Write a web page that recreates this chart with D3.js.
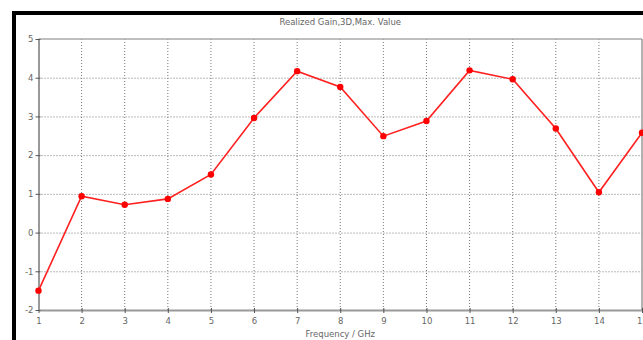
<!DOCTYPE html>
<html><head><meta charset="utf-8">
<script src="https://cdn.jsdelivr.net/npm/d3@7"></script>
<style>body{margin:0;background:#fff;}svg{display:block;}</style>
</head><body>
<script>
const title = "Realized Gain,3D,Max. Value";
const xLabel = "Frequency / GHz";
const freq = [1,2,3,4,5,6,7,8,9,10,11,12,13,14,15];
const gain = [-1.5,0.94,0.72,0.87,1.5,2.96,4.17,3.76,2.49,2.88,4.19,3.96,2.69,1.04,2.58];
const xTicks = [1,2,3,4,5,6,7,8,9,10,11,12,13,14,15];
const yTicks = [-2,-1,0,1,2,3,4,5];

const W = 643, H = 340;
const svg = d3.select("body").append("svg").attr("width", W).attr("height", H);
const L = 38.5, R = 642, T = 39, B = 310;
const x = d3.scaleLinear().domain([1,15]).range([L,R]);
const y = d3.scaleLinear().domain([-2,5]).range([B,T]);
const font = "Tahoma, 'DejaVu Sans', sans-serif";
const fmt = d => String(d);

// grid
const g = svg.append("g");
g.selectAll(".vg").data(xTicks.slice(1,-1)).enter().append("line")
  .attr("x1", d=>x(d)).attr("x2", d=>x(d)).attr("y1", T).attr("y2", B)
  .attr("stroke", "#777").attr("stroke-width", 1).attr("stroke-dasharray", "1,2");
g.selectAll(".hg").data(yTicks.slice(1,-1)).enter().append("line")
  .attr("x1", L).attr("x2", R).attr("y1", d=>y(d)+0.5).attr("y2", d=>y(d)+0.5)
  .attr("stroke", "#777").attr("stroke-width", 1).attr("stroke-dasharray", "1,2");

// frame of plot
svg.append("line").attr("x1", L).attr("x2", R).attr("y1", T).attr("y2", T).attr("stroke", "#aaa").attr("stroke-width", 1.5);
svg.append("line").attr("x1", R).attr("x2", R).attr("y1", T).attr("y2", B).attr("stroke", "#999").attr("stroke-width", 1.5);

// axes
const xAxis = d3.axisBottom(x).tickValues(xTicks).tickSize(3).tickSizeOuter(0).tickFormat(fmt);
const ax = svg.append("g").attr("transform", `translate(0,${B})`).call(xAxis);
const yAxis = d3.axisLeft(y).tickValues(yTicks).tickSize(3).tickSizeOuter(0).tickFormat(fmt);
const ay = svg.append("g").attr("transform", `translate(${L},0)`).call(yAxis);
[ax, ay].forEach(a => {
  a.select(".domain").attr("stroke", "#999").attr("stroke-width", 2);
  a.selectAll(".tick line").attr("stroke", "#555");
  a.selectAll(".tick text").attr("fill", "#666").attr("font-size", 8.5).attr("font-family", font);
});
ax.selectAll(".tick line").attr("y1", -2);
ax.selectAll(".tick text").attr("dy", "0.9em").attr("y", 6);
ay.selectAll(".tick text").attr("x", -5);
ay.selectAll(".tick line").attr("x1", 2);

// line
const line = d3.line().x((d,i)=>x(freq[i])).y(d=>y(d));
svg.append("path").datum(gain).attr("d", line).attr("fill", "none")
  .attr("stroke", "#ff2020").attr("stroke-width", 1.6);
svg.selectAll(".pt").data(gain).enter().append("circle")
  .attr("cx", (d,i)=>x(freq[i])).attr("cy", d=>y(d)).attr("r", 3.2).attr("fill", "#ff0000");

// title & label
svg.append("text").attr("x", (L+R)/2).attr("y", 25).attr("text-anchor", "middle")
  .attr("font-size", 8.5).attr("font-family", font).attr("fill", "#666").text(title);
svg.append("text").attr("x", (L+R)/2).attr("y", 337).attr("text-anchor", "middle")
  .attr("font-size", 8.5).attr("font-family", font).attr("fill", "#666").text(xLabel);

// black outer frame
svg.append("rect").attr("x", 12).attr("y", 11).attr("width", W-12).attr("height", 4).attr("fill", "#000");
svg.append("rect").attr("x", 12).attr("y", 11).attr("width", 4).attr("height", H-11).attr("fill", "#000");
</script>
</body></html>
